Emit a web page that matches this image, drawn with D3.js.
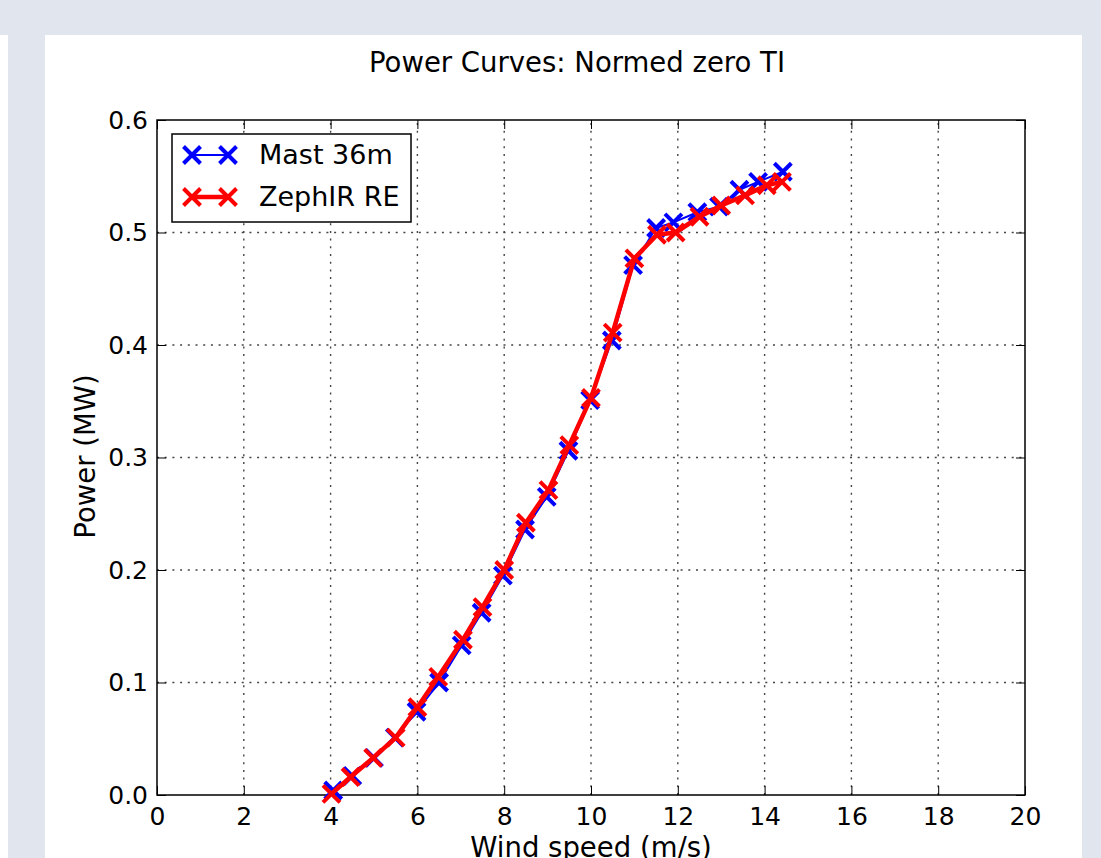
<!DOCTYPE html>
<html lang="en">
<head>
    <meta charset="UTF-8">
    <title>Power Curves</title>
    <script src="https://d3js.org/d3.v7.min.js"></script>
    <style>
        body { margin: 0; background: #e1e5ee; overflow: hidden; }
        text { font-family: "DejaVu Sans", sans-serif; fill: #000; }
    </style>
</head>
<body>
    <svg></svg>

    <script>
        const width = 1101;
        const height = 858;

        // data
        const mastSpeed = [4.06, 4.5, 5.0, 5.48, 5.98, 6.5, 7.02, 7.48, 7.97, 8.48, 8.98, 9.48, 9.98, 10.48, 10.97, 11.5, 11.9, 12.45, 12.95, 13.42, 13.85, 14.42];
        const mastPower = [0.004, 0.017, 0.033, 0.051, 0.074, 0.100, 0.133, 0.162, 0.195, 0.236, 0.265, 0.306, 0.351, 0.404, 0.471, 0.504, 0.509, 0.518, 0.523, 0.538, 0.545, 0.554];
        const zephSpeed = [4.02, 4.46, 4.98, 5.5, 6.0, 6.48, 7.05, 7.5, 8.0, 8.5, 9.02, 9.5, 10.0, 10.5, 11.0, 11.52, 11.95, 12.5, 13.0, 13.55, 14.05, 14.4];
        const zephPower = [0.001, 0.016, 0.033, 0.051, 0.078, 0.105, 0.138, 0.167, 0.200, 0.242, 0.271, 0.311, 0.353, 0.411, 0.477, 0.498, 0.500, 0.514, 0.524, 0.533, 0.542, 0.545];

        const xTicks = [0, 2, 4, 6, 8, 10, 12, 14, 16, 18, 20];
        const yTicks = [0.0, 0.1, 0.2, 0.3, 0.4, 0.5, 0.6];

        const series = [
            {name: 'Mast 36m', color: '#0000ff', line: 2, xs: mastSpeed, ys: mastPower},
            {name: 'ZephIR RE', color: '#ff0000', line: 4.5, xs: zephSpeed, ys: zephPower}
        ];

        const margin = {top: 120, right: 76, bottom: 63, left: 157};

        const svg = d3.select('svg')
            .attr('width', width)
            .attr('height', height);

        // page panels
        svg.append('rect').attr('x', 45).attr('y', 35).attr('width', 1037).attr('height', height - 35).attr('fill', '#fff');
        svg.append('rect').attr('x', 0).attr('y', 35).attr('width', 8).attr('height', height - 35).attr('fill', '#fff');

        const x = d3.scaleLinear().domain([0, 20]).range([margin.left, width - margin.right]);
        const y = d3.scaleLinear().domain([0, 0.6]).range([height - margin.bottom, margin.top]);

        // grid
        svg.append('g')
            .selectAll('line')
            .data(xTicks.slice(1, -1))
            .join('line')
            .attr('x1', d => x(d)).attr('x2', d => x(d))
            .attr('y1', y(0)).attr('y2', y(0.6))
            .attr('stroke', '#444').attr('stroke-width', 1.4).attr('stroke-dasharray', '2,5.7');
        svg.append('g')
            .selectAll('line')
            .data(yTicks.slice(1, -1))
            .join('line')
            .attr('y1', d => y(d)).attr('y2', d => y(d))
            .attr('x1', x(0)).attr('x2', x(20))
            .attr('stroke', '#444').attr('stroke-width', 1.4).attr('stroke-dasharray', '2,5.7');

        // axes, ticks pointing inward like matplotlib classic
        const xAxis = d3.axisBottom(x).tickValues(xTicks).tickFormat(d3.format('d')).tickSizeInner(-9).tickSizeOuter(0).tickPadding(12);
        const xTop = d3.axisTop(x).tickValues(xTicks).tickFormat('').tickSizeInner(-9).tickSizeOuter(0);
        const yAxis = d3.axisLeft(y).tickValues(yTicks).tickFormat(d3.format('.1f')).tickSizeInner(-9).tickSizeOuter(0).tickPadding(9);
        const yRight = d3.axisRight(y).tickValues(yTicks).tickFormat('').tickSizeInner(-9).tickSizeOuter(0);

        const gx = svg.append('g').attr('transform', `translate(0,${y(0)})`).call(xAxis);
        svg.append('g').attr('transform', `translate(0,${y(0.6)})`).call(xTop);
        const gy = svg.append('g').attr('transform', `translate(${x(0)},0)`).call(yAxis);
        svg.append('g').attr('transform', `translate(${x(20)},0)`).call(yRight);

        svg.selectAll('.tick line').attr('stroke', '#000').attr('stroke-width', 1);
        svg.selectAll('.domain').remove();
        gx.selectAll('text').style('font-size', '25px').attr('dy', '0.71em');
        gy.selectAll('text').style('font-size', '25px');

        // frame
        svg.append('rect')
            .attr('x', x(0)).attr('y', y(0.6))
            .attr('width', x(20) - x(0)).attr('height', y(0) - y(0.6))
            .attr('fill', 'none').attr('stroke', '#000').attr('stroke-width', 1.5);

        const ms = 8.5;
        function cross(g, cx, cy, color, sw) {
            g.append('path')
                .attr('d', `M${cx - ms},${cy - ms}L${cx + ms},${cy + ms}M${cx - ms},${cy + ms}L${cx + ms},${cy - ms}`)
                .attr('stroke', color).attr('stroke-width', sw).attr('fill', 'none');
        }

        const line = d3.line().x(d => x(d[0])).y(d => y(d[1]));

        series.forEach(s => {
            const pts = s.xs.map((v, i) => [v, s.ys[i]]);
            const g = svg.append('g');
            g.append('path').datum(pts).attr('d', line)
                .attr('fill', 'none').attr('stroke', s.color).attr('stroke-width', s.line)
                .attr('stroke-linejoin', 'round');
            pts.forEach(p => cross(g, x(p[0]), y(p[1]), s.color, 4));
        });

        // legend
        const lg = svg.append('g');
        lg.append('rect').attr('x', 172).attr('y', 134).attr('width', 239).attr('height', 88)
            .attr('fill', '#fff').attr('stroke', '#000').attr('stroke-width', 1.5);
        series.forEach((s, i) => {
            const ly = 155 + i * 42;
            lg.append('line').attr('x1', 192).attr('x2', 228).attr('y1', ly).attr('y2', ly)
                .attr('stroke', s.color).attr('stroke-width', s.line);
            cross(lg, 192, ly, s.color, 4);
            cross(lg, 228, ly, s.color, 4);
            lg.append('text').attr('x', 259).attr('y', ly).attr('dy', '0.35em')
                .style('font-size', '27px').text(s.name);
        });

        // titles
        svg.append('text').attr('x', 577).attr('y', 72)
            .attr('text-anchor', 'middle').style('font-size', '27.5px')
            .text('Power Curves: Normed zero TI');
        svg.append('text').attr('x', (x(0) + x(20)) / 2).attr('y', 857)
            .attr('text-anchor', 'middle').style('font-size', '27.5px')
            .text('Wind speed (m/s)');
        svg.append('text')
            .attr('transform', `translate(95,${(y(0) + y(0.6)) / 2 - 1}) rotate(-90)`)
            .attr('text-anchor', 'middle').style('font-size', '27.5px')
            .text('Power (MW)');
    </script>
</body>
</html>
